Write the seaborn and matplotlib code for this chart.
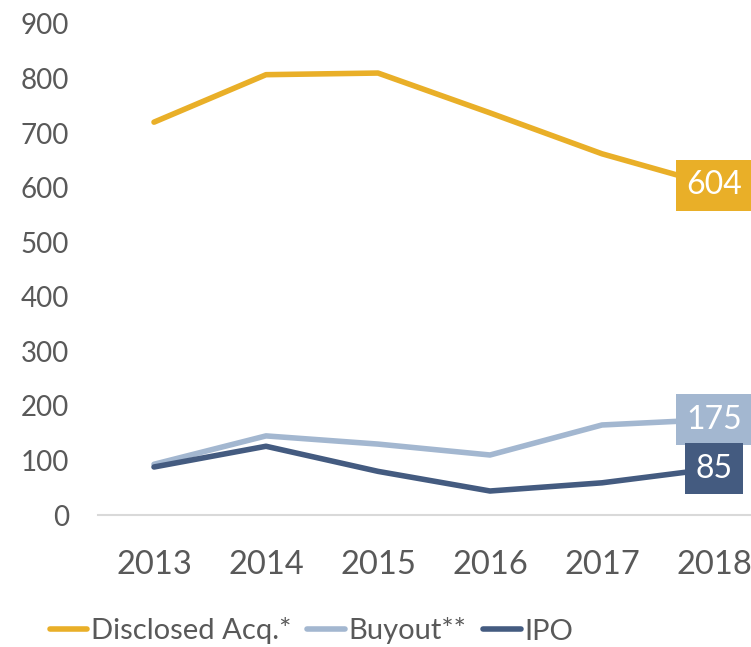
import matplotlib
matplotlib.use('Agg')
import matplotlib.pyplot as plt
import seaborn as sns
import pandas as pd

years = ['2013', '2014', '2015', '2016', '2017', '2018']
disclosed_acq = [720, 807, 810, 737, 662, 604]
buyout = [93, 145, 130, 110, 165, 175]
ipo = [88, 126, 80, 44, 59, 85]

series_names = ['Disclosed Acq.*', 'Buyout**', 'IPO']
colors = ['#E9AF28', '#A3B7D0', '#445B80']

df = pd.DataFrame({
    'year': years * 3,
    'value': disclosed_acq + buyout + ipo,
    'series': [s for s in series_names for _ in years],
})

sns.set_style('white')
plt.rcParams['font.family'] = ['Lato', 'DejaVu Sans']

fig = plt.figure(figsize=(7.51, 6.47), dpi=100)
ax = fig.add_axes([0.1305, 0.204, 0.8948, 0.759])

sns.lineplot(data=df, x='year', y='value', hue='series', palette=colors,
             hue_order=series_names, linewidth=4, ax=ax, legend=True,
             solid_capstyle='round')

ax.set_xlim(-0.5, 5.5)
ax.set_ylim(0, 900)
ax.set_yticks(range(0, 901, 100))
ax.set_xlabel('')
ax.set_ylabel('')
for s in ['top', 'right', 'left']:
    ax.spines[s].set_visible(False)
ax.spines['bottom'].set_color('#D9D9D9')
ax.spines['bottom'].set_linewidth(1.5)
ax.tick_params(axis='y', length=0, pad=21, labelsize=20, labelcolor='#595959')
ax.tick_params(axis='x', length=0, pad=25, labelsize=23.5, labelcolor='#595959')

# end labels
for vals, c in zip([disclosed_acq, buyout, ipo], colors):
    ax.text(len(years) - 1, vals[-1], str(vals[-1]), ha='center', va='center',
            fontsize=23, color='white',
            bbox=dict(boxstyle='square,pad=0.33', facecolor=c, edgecolor='none'))

handles, labels = ax.get_legend_handles_labels()
ax.get_legend().remove()
fig.legend(handles, labels, loc='center left', bbox_to_anchor=(0.066, 1 - 631 / 647),
           ncol=3, frameon=False, fontsize=21, handlelength=1.3,
           handletextpad=0.12, columnspacing=0.55, labelcolor='#595959',
           borderaxespad=0, borderpad=0)

fig.savefig('out.png', dpi=100, facecolor='white')
